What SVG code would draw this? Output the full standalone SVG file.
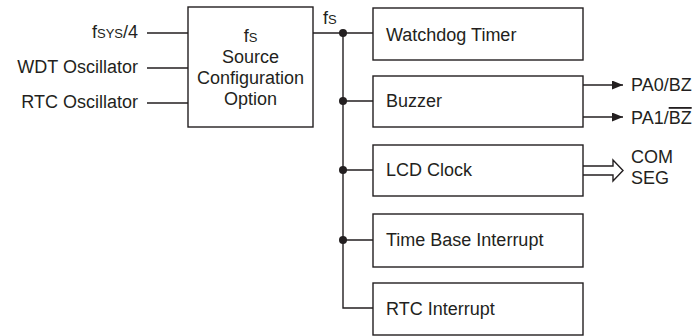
<svg xmlns="http://www.w3.org/2000/svg" width="699" height="336" viewBox="0 0 699 336">
<style>
text{font-family:"Liberation Sans",Arial,sans-serif;font-size:18px;fill:#231f20}
.b{fill:#fff;stroke:#231f20;stroke-width:1.4}
.w{fill:none;stroke:#231f20;stroke-width:1.4}
.d{fill:#231f20}
.s{font-size:13px}
</style>
<defs>
<marker id="ah" markerWidth="12" markerHeight="10" refX="11" refY="4.5" orient="auto" markerUnits="userSpaceOnUse">
<path d="M0,0 L11,4.5 L0,9 Z" fill="#231f20"/>
</marker>
</defs>
<rect width="699" height="336" fill="#fff"/>
<g id="connectors">
<path class="w" d="M147,33 H188 M147,68 H188 M147,103 H188"/>
<path class="w" d="M313,33 H373 M343,33 V308 H373 M343,101 H373 M343,170 H373 M343,240 H373"/>
<circle class="d" cx="343" cy="33" r="4"/>
<circle class="d" cx="343" cy="101" r="4"/>
<circle class="d" cx="343" cy="170" r="4"/>
<circle class="d" cx="343" cy="240" r="4"/>
<path class="w" d="M583,85 H623" marker-end="url(#ah)"/>
<path class="w" d="M583,117 H623" marker-end="url(#ah)"/>
<path class="w" d="M583,166 H613 V160 L623,170.5 L613,181 V175 H583" stroke-linejoin="miter"/>
</g>
<g id="in-fsys"><text x="138" y="38" text-anchor="end">f<tspan class="s">SYS</tspan>/4</text></g>
<g id="in-wdt"><text x="138" y="73" text-anchor="end">WDT Oscillator</text></g>
<g id="in-rtc"><text x="138" y="108" text-anchor="end">RTC Oscillator</text></g>
<g id="source">
<rect class="b" x="188" y="7" width="125" height="120"/>
<text x="250.5" y="42" text-anchor="middle">f<tspan class="s">S</tspan></text>
<text x="250.5" y="63" text-anchor="middle">Source</text>
<text x="250.5" y="84" text-anchor="middle">Configuration</text>
<text x="250.5" y="105" text-anchor="middle">Option</text>
</g>
<g id="fs-label"><text x="323" y="24">f<tspan class="s">S</tspan></text></g>
<g id="wdt">
<rect class="b" x="373" y="8" width="210" height="52"/>
<text x="386" y="41">Watchdog Timer</text>
</g>
<g id="buzzer">
<rect class="b" x="373" y="76" width="210" height="51"/>
<text x="386" y="107">Buzzer</text>
</g>
<g id="lcd">
<rect class="b" x="373" y="145" width="210" height="51"/>
<text x="386" y="176">LCD Clock</text>
</g>
<g id="tbi">
<rect class="b" x="373" y="214" width="210" height="53"/>
<text x="386" y="246">Time Base Interrupt</text>
</g>
<g id="rtci">
<rect class="b" x="373" y="283" width="210" height="52"/>
<text x="386" y="315">RTC Interrupt</text>
</g>
<g id="out-pa0"><text x="631" y="91">PA0/BZ</text></g>
<g id="out-pa1"><text x="631" y="124">PA1/<tspan text-decoration="overline">BZ</tspan></text></g>
<g id="out-com"><text x="631" y="163">COM</text></g>
<g id="out-seg"><text x="631" y="184">SEG</text></g>
</svg>
